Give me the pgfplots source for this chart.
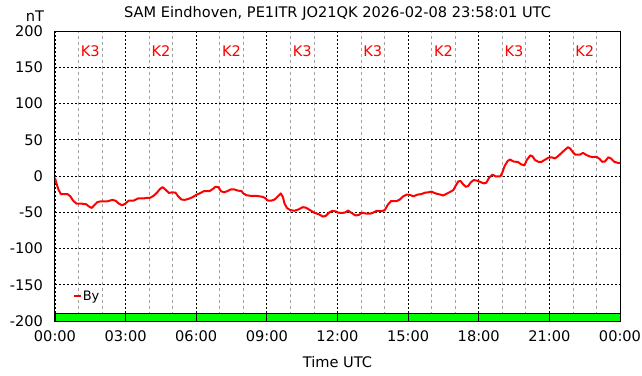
\documentclass[border=0pt]{standalone}
\usepackage{fontspec}
\setmainfont{DejaVu Sans}
\usepackage{pgfplots}
\pgfplotsset{compat=1.18}
\definecolor{kred}{HTML}{FF0000}
\definecolor{kgreen}{HTML}{00FF00}
\definecolor{mgray}{HTML}{A0A0A0}
\begin{document}
\begin{tikzpicture}[font=\fontsize{14.6bp}{17bp}\selectfont]
\useasboundingbox (-55bp,-55bp) rectangle (587bp,321bp);
\begin{axis}[
  at={(0,0)}, anchor=south west,
  scale only axis, width=565bp, height=290bp,
  xmin=0, xmax=24, ymin=-200, ymax=200,
  xtick={0,3,...,24},
  xticklabels={00:00,03:00,06:00,09:00,12:00,15:00,18:00,21:00,00:00},
  minor x tick num=2,
  ytick={-200,-150,...,200},
  /pgf/number format/assume math mode=true,
  major tick length=0pt, minor tick length=0pt,
  xmajorgrids, ymajorgrids, xminorgrids,
  major grid style={black, line width=0.8bp, dash pattern=on 2bp off 2bp},
  minor grid style={mgray, line width=0.8bp, dash pattern=on 3bp off 3bp},
  axis line style={black, line width=1bp},
  yticklabel style={xshift=-8.5bp},
  xticklabel style={yshift=-6bp},
  title={SAM Eindhoven, PE1ITR JO21QK 2026-02-08 23:58:01 UTC},
  title style={at={(axis description cs:0.5,1)}, anchor=center, yshift=12bp, inner sep=0pt},
  xlabel={Time UTC},
  xlabel style={at={(axis description cs:0.5,0)}, anchor=center, yshift=-41bp, inner sep=0pt},
  ylabel={nT},
  ylabel style={at={(axis description cs:0,1)}, rotate=-90, anchor=center, xshift=-20bp, yshift=15bp, inner sep=0pt},
  legend style={at={(axis description cs:0.032,0.086)}, anchor=west, draw=none, fill=none, inner sep=0pt,
    nodes={inner sep=0.5bp}, font=\fontsize{13bp}{15bp}\selectfont},
  clip=true,
]
% K-index bars
\addplot[fill=kgreen, draw=black, line width=0.8bp, forget plot] coordinates {(0,-200)(3,-200)(3,-190)(0,-190)} -- cycle;
\addplot[fill=kgreen, draw=black, line width=0.8bp, forget plot] coordinates {(3,-200)(6,-200)(6,-190)(3,-190)} -- cycle;
\addplot[fill=kgreen, draw=black, line width=0.8bp, forget plot] coordinates {(6,-200)(9,-200)(9,-190)(6,-190)} -- cycle;
\addplot[fill=kgreen, draw=black, line width=0.8bp, forget plot] coordinates {(9,-200)(12,-200)(12,-190)(9,-190)} -- cycle;
\addplot[fill=kgreen, draw=black, line width=0.8bp, forget plot] coordinates {(12,-200)(15,-200)(15,-190)(12,-190)} -- cycle;
\addplot[fill=kgreen, draw=black, line width=0.8bp, forget plot] coordinates {(15,-200)(18,-200)(18,-190)(15,-190)} -- cycle;
\addplot[fill=kgreen, draw=black, line width=0.8bp, forget plot] coordinates {(18,-200)(21,-200)(21,-190)(18,-190)} -- cycle;
\addplot[fill=kgreen, draw=black, line width=0.8bp, forget plot] coordinates {(21,-200)(24,-200)(24,-190)(21,-190)} -- cycle;
% By
\addplot[kred, line width=2bp, line join=round, mark=none,
  legend image code/.code={\draw[kred, line width=2bp] (0bp,0bp) -- (7bp,0bp);}]
coordinates {
(0,-2.7)(0.07,-11)(0.15,-19)(0.25,-25)(0.39,-25)(0.53,-25)(0.65,-28)(0.77,-34)(0.91,-38)(1.09,-38)(1.33,-39)(1.44,-42)(1.56,-44)(1.65,-41)(1.8,-36)(1.94,-35)(2.22,-35)(2.43,-33)(2.57,-34)(2.71,-38)(2.85,-40.5)(2.99,-38)(3.13,-34)(3.34,-34)(3.52,-31)(3.76,-31)(3.94,-30)(4.04,-30)(4.18,-27.5)(4.32,-23.4)(4.46,-18)(4.57,-15.3)(4.7,-19)(4.84,-23.4)(4.98,-22.5)(5.12,-23)(5.23,-28)(5.37,-32.4)(5.51,-33)(5.68,-31.5)(5.86,-29)(6.0,-26)(6.14,-24)(6.32,-21)(6.56,-21)(6.7,-18)(6.81,-15)(6.94,-15.3)(7.05,-21)(7.19,-22.5)(7.33,-20.7)(7.47,-18.5)(7.61,-18.5)(7.75,-20)(7.93,-21)(8.0,-24)(8.14,-26.6)(8.35,-27.5)(8.56,-27.5)(8.77,-28.4)(8.91,-30)(9.05,-34)(9.19,-34)(9.33,-32.4)(9.47,-28)(9.59,-24)(9.68,-29)(9.75,-38)(9.85,-44)(9.99,-47)(10.17,-48)(10.35,-46)(10.52,-43)(10.66,-43.7)(10.83,-47)(11.01,-50.5)(11.22,-53)(11.38,-56)(11.5,-55)(11.64,-50.5)(11.78,-48)(11.94,-49)(12.03,-50.5)(12.17,-51)(12.31,-50.5)(12.45,-47.7)(12.6,-51)(12.77,-54.5)(12.91,-53.6)(13.05,-50.5)(13.23,-52)(13.38,-52)(13.52,-50.5)(13.66,-48)(13.87,-48.6)(14.01,-47)(14.13,-40)(14.27,-34.7)(14.51,-34.7)(14.65,-32.4)(14.79,-28)(14.94,-25.7)(15.07,-26)(15.22,-28)(15.4,-25.7)(15.57,-24.8)(15.72,-23)(15.86,-22.5)(16.0,-21.5)(16.07,-22.7)(16.21,-24.5)(16.35,-25.5)(16.49,-26.9)(16.63,-24.5)(16.77,-22.2)(16.92,-19.4)(17.03,-13)(17.13,-7.4)(17.23,-7)(17.34,-11.6)(17.45,-14.8)(17.55,-13.9)(17.66,-8.8)(17.79,-5.6)(17.93,-6.5)(18.07,-8.3)(18.21,-10.2)(18.32,-9.3)(18.44,-2.3)(18.58,1.9)(18.72,-0.5)(18.92,-0.5)(19.0,4.6)(19.1,13.9)(19.23,20.8)(19.33,22.7)(19.48,19.9)(19.66,19.4)(19.8,16.2)(19.94,14.5)(20.04,22)(20.19,28.5)(20.29,27)(20.39,22)(20.53,19.6)(20.67,19.6)(20.81,22.4)(20.96,25.2)(21.1,25.7)(21.24,24.3)(21.39,28)(21.53,32.2)(21.67,36.4)(21.79,39.7)(21.89,37.8)(22.0,32.7)(22.1,29.4)(22.29,29.4)(22.43,31.8)(22.57,29)(22.71,27)(22.86,26)(23.0,26.6)(23.14,23.4)(23.24,19.6)(23.36,20)(23.5,25.7)(23.61,24.3)(23.76,19.6)(23.9,18.2)(24.0,18.2)
};
\addlegendentry{By}
% K labels
\node[kred, anchor=center] at (axis cs:1.5,172) {K3};
\node[kred, anchor=center] at (axis cs:4.5,172) {K2};
\node[kred, anchor=center] at (axis cs:7.5,172) {K2};
\node[kred, anchor=center] at (axis cs:10.5,172) {K3};
\node[kred, anchor=center] at (axis cs:13.5,172) {K3};
\node[kred, anchor=center] at (axis cs:16.5,172) {K2};
\node[kred, anchor=center] at (axis cs:19.5,172) {K3};
\node[kred, anchor=center] at (axis cs:22.5,172) {K2};
\end{axis}
\end{tikzpicture}
\end{document}
